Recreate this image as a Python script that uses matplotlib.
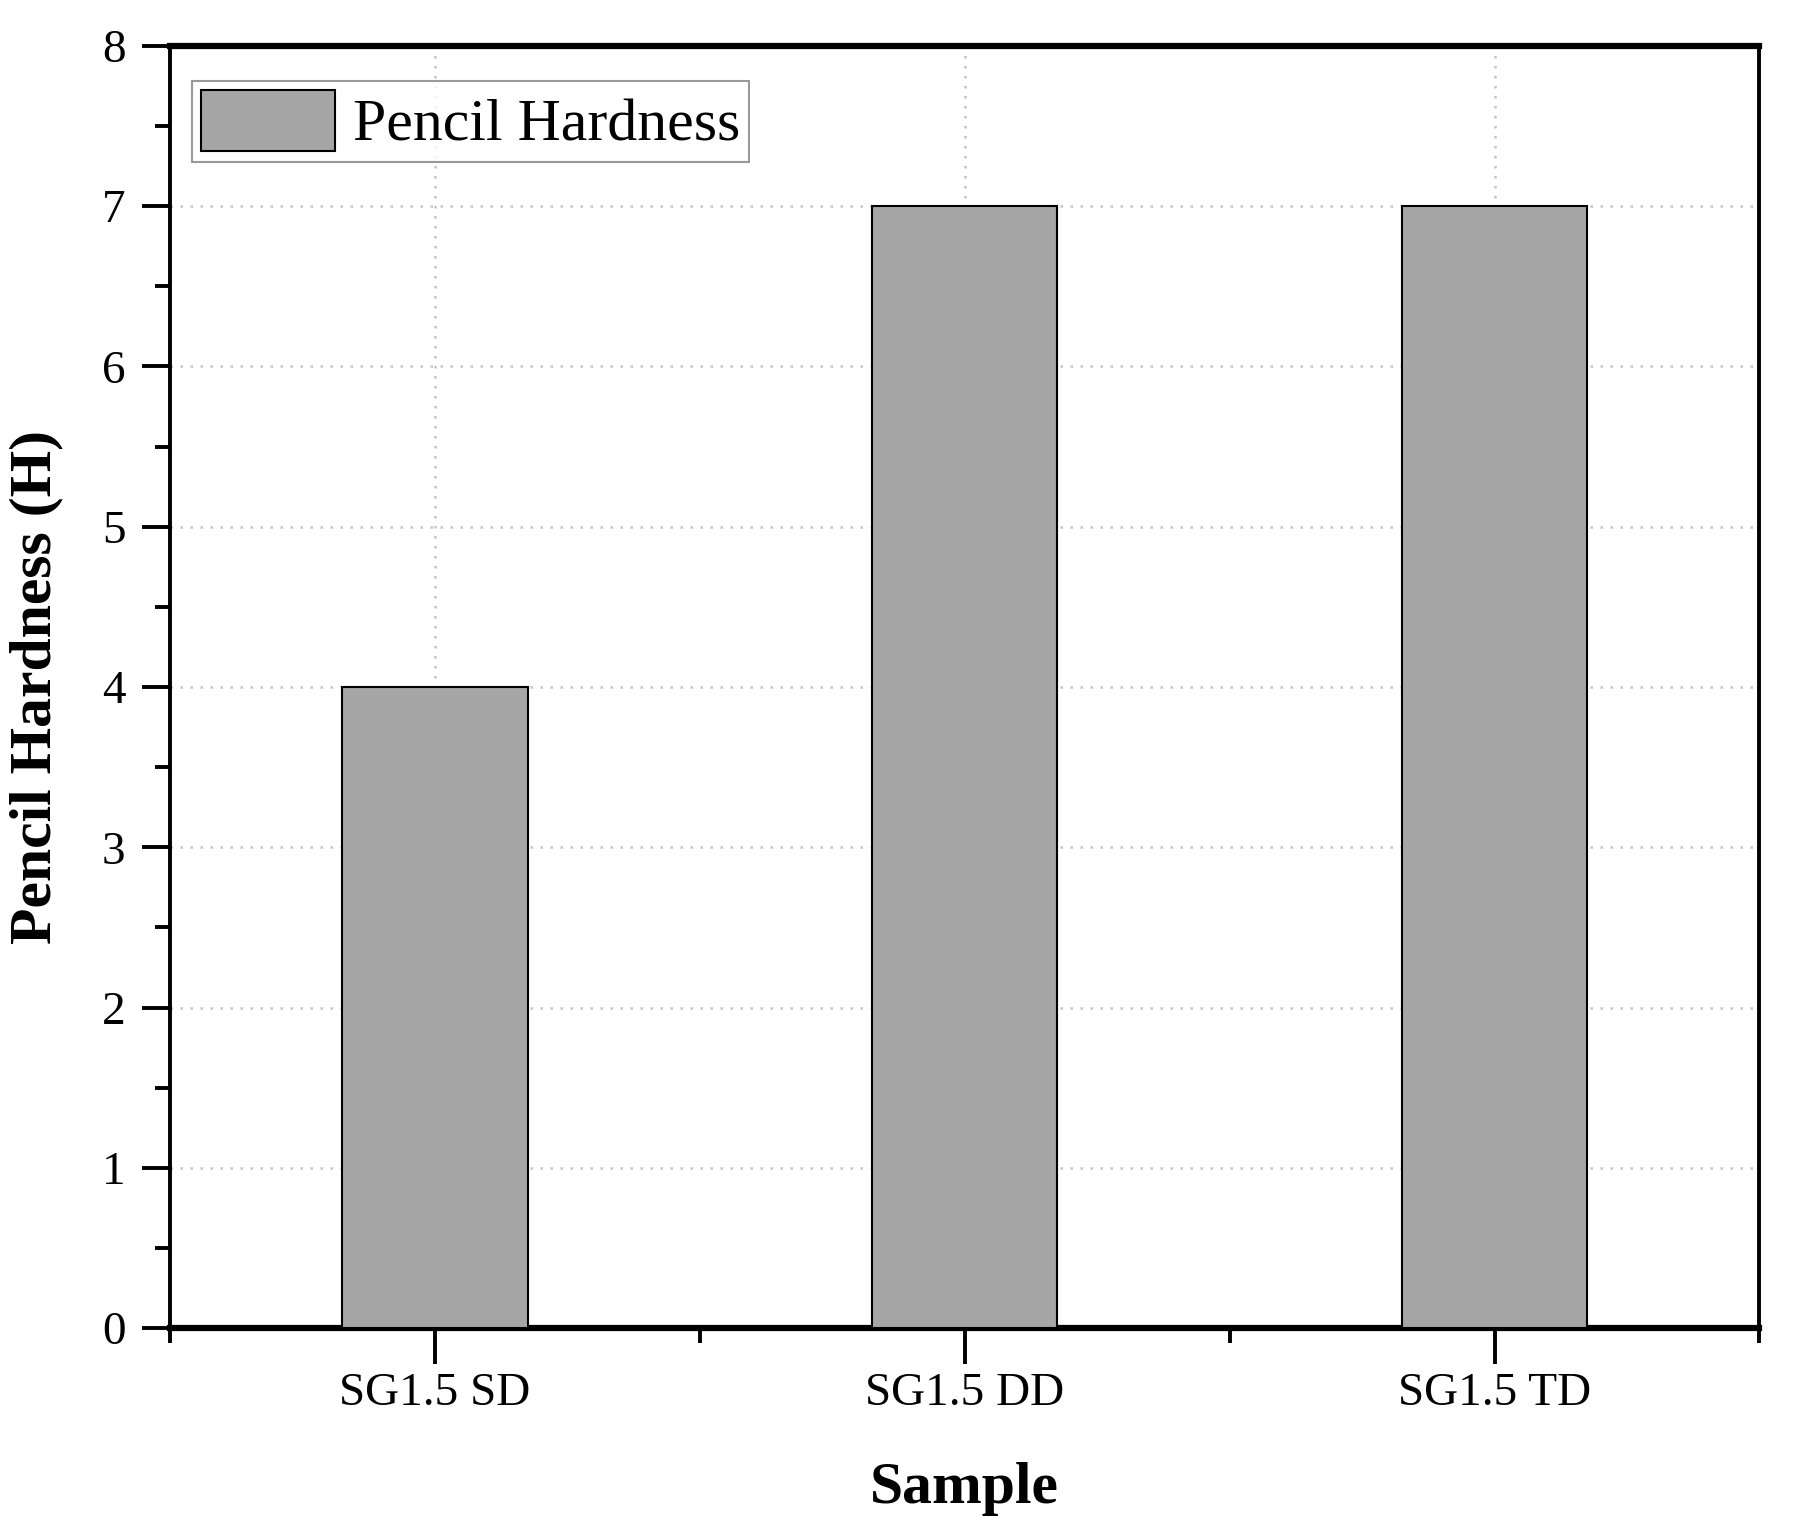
import numpy as np
import matplotlib
matplotlib.use('Agg')
from matplotlib import pyplot as plt
from matplotlib.ticker import MultipleLocator

samples = ['SG1.5 SD', 'SG1.5 DD', 'SG1.5 TD']
hardness = [4, 7, 7]
series_name = 'Pencil Hardness'

plt.rcParams['font.family'] = ['Liberation Serif', 'DejaVu Serif']

fig = plt.figure(figsize=(17.97, 15.31), dpi=100)
ax = fig.add_axes([0.0946, 0.1325, 0.8845, 0.8375])

x = np.arange(len(samples))
ax.bar(x, hardness, width=0.35, color='#a6a6a6', edgecolor='black',
       linewidth=1.5, label=series_name, zorder=3)

ax.set_xlim(-0.5, 2.5)
ax.set_ylim(0, 8)
ax.set_xticks(x)
ax.set_xticklabels(samples)
ax.xaxis.set_minor_locator(MultipleLocator(0.5))
ax.yaxis.set_major_locator(MultipleLocator(1))
ax.yaxis.set_minor_locator(MultipleLocator(0.5))

# grid
ax.grid(True, which='major', linestyle=(0, (1, 3)), color='#c4c4c4', linewidth=1.8, zorder=0)

for side in ['left', 'right']:
    ax.spines[side].set_linewidth(2.8)
for side in ['top', 'bottom']:
    ax.spines[side].set_linewidth(4.5)

ax.tick_params(axis='both', which='major', direction='out', length=20, width=2.8,
               labelsize=34, pad=12)
ax.tick_params(axis='both', which='minor', direction='out', length=11, width=2.8)
ax.tick_params(axis='x', which='major', length=26, pad=6)

ax.set_xlabel('Sample', fontsize=43, fontweight='bold', labelpad=34)
ax.set_ylabel('Pencil Hardness (H)', fontsize=43, fontweight='bold', labelpad=28)

leg = ax.legend(loc='upper left', bbox_to_anchor=(0.0137, 0.973), borderaxespad=0,
                fontsize=43, frameon=True, fancybox=False,
                handlelength=2.25, handleheight=1.2, handletextpad=0.3,
                borderpad=0.15)
leg.get_frame().set_edgecolor('#808080')
leg.get_frame().set_linewidth(1.5)

fig.savefig('out.png', dpi=100)
